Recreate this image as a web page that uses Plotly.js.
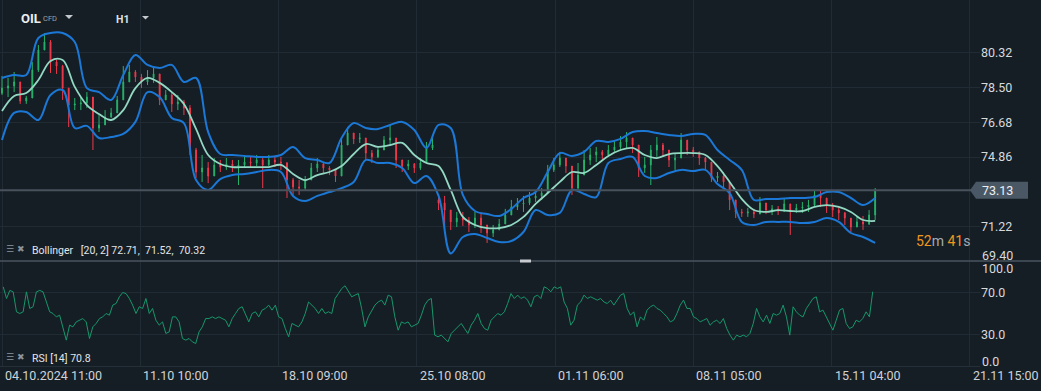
<!DOCTYPE html>
<html><head><meta charset="utf-8">
<script src="https://cdn.plot.ly/plotly-3.0.1.min.js"></script>
<style>html,body{margin:0;padding:0;background:#161e25;overflow:hidden}#chart{width:1041px;height:391px}</style>
</head><body><div id="chart"></div>
<script>
// ---------------- DATA ----------------
// hourly candles, one sampled every 5 bars
const candleStep = 5;
const firstOpen = 78.20;
const closes = [
78.47,78.58,78.79,77.79,77.95,79.41,80.46,80.88,79.83,79.62,
78.47,77.58,77.64,77.69,78.00,76.38,76.54,76.96,77.17,77.85,
78.79,79.31,79.05,78.79,79.00,79.21,77.85,78.11,77.64,77.74,
77.43,75.23,74.08,74.29,73.87,74.45,74.34,74.50,74.39,74.45,
74.60,74.55,74.71,74.45,74.71,74.60,74.55,73.66,73.30,73.24,
73.66,74.29,74.50,74.29,74.19,73.87,75.49,76.12,75.81,75.86,
75.07,74.87,75.23,75.75,75.86,74.71,74.39,74.50,74.29,74.55,
75.34,75.49,72.46,72.09,71.47,71.67,71.57,71.31,71.67,71.31,
70.89,71.05,71.36,71.83,72.25,72.41,72.46,72.72,72.83,72.98,
74.19,74.45,74.81,74.39,73.24,73.92,74.71,74.97,75.13,74.97,
75.23,75.39,75.65,75.86,75.49,74.29,74.45,75.23,75.49,75.23,
74.71,74.81,75.75,75.23,75.13,74.81,74.60,73.77,73.87,73.56,
72.62,71.99,71.94,71.99,71.88,72.46,72.09,72.15,72.04,72.41,
72.09,72.20,72.25,72.35,72.88,72.72,72.35,72.09,71.94,71.67,
71.20,71.47,71.36,71.83,73.13];
const highs = [
79.10,79.00,79.31,78.37,78.06,79.83,80.72,81.35,80.98,79.94,
79.68,78.47,77.95,78.00,78.26,77.58,77.06,77.32,77.43,78.06,
79.62,79.68,79.41,79.21,79.41,79.62,79.21,78.37,78.26,78.11,
77.85,77.58,75.34,74.97,74.60,74.81,74.71,74.81,74.71,74.71,
74.92,74.87,74.97,74.87,74.97,74.92,74.87,74.60,73.77,73.66,
73.87,74.55,74.81,74.55,74.39,74.19,75.86,76.43,76.07,76.12,
75.75,75.23,75.44,75.96,76.54,75.86,74.71,74.71,74.55,74.81,
75.65,75.86,72.88,72.83,71.99,71.99,71.99,71.73,71.99,71.99,
71.26,71.31,71.62,72.15,72.62,72.72,72.83,73.03,73.14,73.24,
74.45,74.81,75.13,74.81,74.08,74.55,75.23,75.34,75.39,75.23,
75.49,75.75,75.96,76.17,75.86,74.97,74.87,75.49,75.91,75.60,
75.23,75.07,76.12,75.49,75.39,75.07,74.87,74.29,74.08,74.08,
73.40,72.35,72.15,72.20,72.15,72.77,72.35,72.35,72.30,72.67,
72.35,72.41,72.51,72.62,73.14,73.09,72.67,72.46,72.25,71.99,
71.57,71.73,71.78,72.09,73.24];
const lows = [
78.11,78.00,78.26,77.64,77.64,77.95,79.31,80.46,79.26,79.21,
77.85,76.43,77.32,77.32,77.43,75.23,76.17,76.70,76.91,77.22,
77.85,78.89,78.79,78.47,78.63,78.74,77.58,77.85,77.22,77.32,
77.06,74.97,73.77,73.56,73.50,74.08,74.08,74.19,74.08,73.40,
74.29,74.29,74.39,73.24,74.39,74.34,74.19,72.72,72.88,72.88,
73.14,73.77,74.08,74.03,73.92,73.56,74.29,75.60,75.54,75.60,
74.71,74.55,74.81,75.39,75.49,74.29,74.08,74.19,74.03,74.19,
74.60,75.23,72.09,71.05,71.05,71.20,71.26,70.94,71.15,70.89,
70.37,70.68,71.05,71.47,71.88,72.09,71.99,72.35,72.51,72.62,
73.40,74.08,74.34,74.03,72.88,73.03,74.29,74.45,74.60,74.71,
74.87,75.13,75.23,75.34,75.07,73.82,74.03,73.40,74.87,74.87,
74.34,74.19,75.23,74.97,74.87,74.45,74.19,73.56,73.56,73.24,
72.09,71.67,71.73,71.73,71.67,71.99,71.88,71.83,71.83,71.99,
70.79,71.94,71.94,71.99,72.25,72.25,71.94,71.73,71.57,71.31,
70.94,71.20,71.05,71.31,71.57];
// opening gaps (candle index -> open)
const gapOpens = {72: 72.62};

// Bollinger (20, 2), one value every 10 bars
const bandStep = 10;
const bbUpper = [
79.00,79.15,79.15,81.09,81.35,81.35,80.88,78.47,78.26,77.85,
79.15,80.20,79.68,79.52,79.68,78.79,79.00,76.17,75.02,74.97,
74.92,74.87,74.87,74.97,75.39,74.81,74.71,74.55,75.86,76.64,
76.38,76.33,76.54,76.70,76.28,75.34,76.54,76.38,72.88,72.04,
71.88,71.78,72.15,72.72,73.03,74.08,75.07,74.92,75.13,75.70,
75.65,75.81,76.17,76.22,76.12,76.02,75.96,76.07,76.02,75.23,
74.71,74.19,72.62,72.67,72.67,72.72,72.72,72.77,73.03,73.03,
72.72,72.35,72.72];
const bbMid = [
77.27,78.06,78.21,78.89,79.89,79.94,78.53,77.58,77.11,76.80,
77.32,78.47,79.00,78.74,78.26,77.64,76.33,74.97,74.50,74.34,
74.34,74.34,74.34,74.45,73.98,73.66,73.92,74.08,74.39,75.02,
75.54,75.39,75.49,75.60,74.97,74.55,74.39,73.14,71.73,71.31,
71.15,71.15,71.31,71.73,72.41,72.98,73.56,74.08,74.03,74.45,
74.92,75.23,75.34,74.97,74.81,75.02,75.07,75.07,74.97,74.39,
73.56,72.67,72.09,71.99,72.09,72.04,72.04,72.25,72.35,72.25,
71.99,71.57,71.52];
const bbLower = [
75.75,77.17,77.22,76.80,78.11,78.37,76.38,76.49,75.86,75.91,
76.07,76.70,78.26,78.00,76.91,76.64,73.66,73.14,73.71,73.92,
73.98,74.08,74.19,74.08,72.83,72.56,72.83,73.03,73.24,73.56,
74.71,74.55,74.55,74.29,73.50,73.87,72.83,69.82,70.68,70.84,
70.63,70.42,70.47,70.94,72.09,71.83,71.94,73.14,72.93,72.77,
74.55,74.76,74.87,73.87,73.77,74.03,74.19,74.13,74.19,73.45,
72.98,71.47,71.31,71.47,71.47,71.47,71.41,71.47,71.67,71.47,
70.89,70.68,70.37];

// RSI (14)
const rsi = [
75.4,64.3,72,70.6,51.6,50,51.6,70.6,54.8,56.4,
70.6,72,70.6,61,51.6,50,46.8,48.4,35.7,24.6,
38.9,37.3,42,43.6,45.2,42,26.2,37.3,40.5,45.2,
46.8,50,48.4,58,59.5,65.9,70,69,64.3,58,
50,56.4,54.8,64.3,50,54.8,43.6,38.9,42,31,
32.5,46.8,46.8,42,26.2,24.6,26.2,23,21.4,32.5,
37.3,45.2,45.2,46.8,45.2,46.8,45,43.6,37.3,45.2,
50,54.8,56.4,50,42,50,51.6,46.8,53.2,54.8,
58,53.2,58,46.8,45.2,35.7,27.8,40.5,38.9,37.3,
42,50,61,58,54.8,50,54.8,50,51.6,50,
64.3,69,73.8,76.4,70.6,65.9,67.5,69,54.8,37.3,
46.8,53.2,58,61,62.7,58,67.5,65.9,46.8,34.1,
42,40.5,42,37.3,38.9,40.5,48.4,58,62.7,64.3,
29.4,27.8,29.4,26.2,23,31,34.1,37.3,40.5,35.7,
31,38.9,43.6,50,40.5,35.7,34.1,43.6,46.8,50,
48.4,51.6,59.5,69,64.3,67.5,64.3,65.9,62.7,56.4,
65.9,67.5,64.3,75.4,73.8,70.6,75.4,73.8,75.4,61,
54.8,38.9,43.6,58,61,67.5,64.3,65.9,64.3,62.7,
64.3,61,59.5,62.7,58,62.7,67.5,69,54.8,48.4,
51.6,37.3,46.8,43.6,53.2,56.4,58,54.8,53.2,50,
46.8,42,43.6,50,58,62.7,54.8,54.8,46.8,45.2,
42,43.6,45.2,38.9,42,43.6,40.5,45.2,35.7,29.4,
24.6,29.4,27.8,29.4,27.8,31,40.5,54.8,46.8,42,
48.4,40.5,50,48.4,50,58,46.8,29.4,56.4,51.6,
48.4,46.8,54.8,59.5,64.3,65.9,51.6,53.2,46.8,42,
34.1,43.6,53.2,54.8,40.5,35.7,37.3,43.6,42,45.2,
51.6,46.8,70.8];
const rsiSpan = [1, 718];

// axis labels
const barsPerTick = 114;
const dateLabels = ['04.10.2024 11:00','11.10 10:00','18.10 09:00','25.10 08:00','01.11 06:00','08.11 05:00','15.11 04:00','21.11 15:00'];
const priceTicks = [80.32, 78.50, 76.68, 74.86, 71.22];
const priceEdgeTick = 69.40;
const rsiTicks = [70, 30];
const rsiEdgeTicks = [100, 0];
const lastPrice = 73.13;
const bbLegend = 'Bollinger&nbsp;&nbsp; [20, 2] 72.71,&nbsp; 71.52,&nbsp; 70.32';
const rsiLegend = 'RSI [14] 70.8';
const symbol = 'OIL', symbolType = 'CFD', timeframe = 'H1';
const countdown = ['52', '41'];

// ---------------- LAYOUT GEOMETRY ----------------
const W = 1041, H = 391;
const M = {l: 0, r: 61, t: 0, b: 25};
const plotW = W - M.l - M.r, plotH = H - M.t - M.b;
const splitPx = 261;
const split = 1 - splitPx / plotH;
const pxPerBar = 138.25 / barsPerTick;
const xRange = [-2 / pxPerBar, (plotW - 2) / pxPerBar];
const priceRange = [69.425, 83.076];
const px = v => v / plotW;
const py = v => (plotH - v) / plotH;
const priceToPaper = p => split + (p - priceRange[0]) / (priceRange[1] - priceRange[0]) * (1 - split);

const BG = '#161e25', GRID = '#212b34', TXT = '#d6dadd';
const UP = '#27b36a', DOWN = '#f0394b';

const opens = closes.map((c, i) => (gapOpens[i] !== undefined ? gapOpens[i] : (i === 0 ? firstOpen : closes[i - 1])));
const hi = highs.map((h, i) => Math.max(h, opens[i], closes[i]));
const lo = lows.map((l, i) => Math.min(l, opens[i], closes[i]));
const candleX = closes.map((_, i) => i * candleStep);
const bandX = bbMid.map((_, i) => i * bandStep);
const rsiX = rsi.map((_, i) => rsiSpan[0] + i * (rsiSpan[1] - rsiSpan[0]) / (rsi.length - 1));
const tickVals = dateLabels.map((_, i) => i * barsPerTick);

const traces = [
  {type: 'candlestick', x: candleX, open: opens, high: hi, low: lo, close: closes,
   xaxis: 'x', yaxis: 'y', whiskerwidth: 0,
   increasing: {line: {color: UP, width: 1}, fillcolor: UP},
   decreasing: {line: {color: DOWN, width: 1}, fillcolor: DOWN}, hoverinfo: 'skip'},
  {type: 'scatter', mode: 'lines', x: bandX, y: bbUpper, xaxis: 'x', yaxis: 'y',
   line: {color: '#1b78d6', width: 2, shape: 'spline', smoothing: 1}},
  {type: 'scatter', mode: 'lines', x: bandX, y: bbLower, xaxis: 'x', yaxis: 'y',
   line: {color: '#1b78d6', width: 2, shape: 'spline', smoothing: 1}},
  {type: 'scatter', mode: 'lines', x: bandX, y: bbMid, xaxis: 'x', yaxis: 'y',
   line: {color: '#93d8c3', width: 1.8, shape: 'spline', smoothing: 1}},
  {type: 'scatter', mode: 'lines', x: rsiX, y: rsi, xaxis: 'x', yaxis: 'y2',
   line: {color: '#15976a', width: 1}}
];

const annotations = [];
dateLabels.forEach((t, i) => annotations.push({
  text: t, xref: 'x', x: tickVals[i], yref: 'paper', y: 0, xanchor: 'left', yanchor: 'top',
  xshift: 1, yshift: 0, showarrow: false, font: {size: 12.5, color: '#cfd3d7'}}));
const rightLabel = (text, yPx) => ({text, xref: 'paper', x: px(980), yref: 'paper', y: py(yPx),
  xanchor: 'left', yanchor: 'middle', showarrow: false, font: {size: 12.5, color: TXT}});
annotations.push(rightLabel(priceEdgeTick.toFixed(2), 255.5));
annotations.push(rightLabel(rsiEdgeTicks[0].toFixed(1), 268));
annotations.push(rightLabel(rsiEdgeTicks[1].toFixed(1), 361.5));
annotations.push({text: lastPrice.toFixed(2), xref: 'paper', x: px(980), yref: 'y', y: lastPrice,
  xanchor: 'left', yanchor: 'middle', showarrow: false, font: {size: 12.5, color: '#eef0f2'}});
annotations.push({text: '<b>' + symbol + '</b>', xref: 'paper', x: px(19), yref: 'paper', y: py(18),
  xanchor: 'left', yanchor: 'middle', showarrow: false, font: {size: 13, color: '#eceef0'}});
annotations.push({text: symbolType, xref: 'paper', x: px(41), yref: 'paper', y: py(18.5),
  xanchor: 'left', yanchor: 'middle', showarrow: false, font: {size: 7.5, color: '#9aa3ab'}});
annotations.push({text: '<b>' + timeframe + '</b>', xref: 'paper', x: px(114), yref: 'paper', y: py(20),
  xanchor: 'left', yanchor: 'middle', showarrow: false, font: {size: 10.5, color: '#dfe2e5'}});
annotations.push({text: '☰ ✖', xref: 'paper', x: px(4), yref: 'paper', y: py(249),
  xanchor: 'left', yanchor: 'middle', showarrow: false, font: {family: 'DejaVu Sans', size: 9, color: '#8d959c'}});
annotations.push({text: bbLegend, xref: 'paper', x: px(30), yref: 'paper', y: py(250.5),
  xanchor: 'left', yanchor: 'middle', showarrow: false, font: {size: 10.5, color: '#e2e5e8'}});
annotations.push({text: '☰ ✖', xref: 'paper', x: px(4), yref: 'paper', y: py(357),
  xanchor: 'left', yanchor: 'middle', showarrow: false, font: {family: 'DejaVu Sans', size: 9, color: '#8d959c'}});
annotations.push({text: rsiLegend, xref: 'paper', x: px(30), yref: 'paper', y: py(358.5),
  xanchor: 'left', yanchor: 'middle', showarrow: false, font: {size: 10.5, color: '#e2e5e8'}});
annotations.push({text: '<span style="color:#ef961f">' + countdown[0] + '</span>m <span style="color:#ef961f">' + countdown[1] + '</span>s',
  xref: 'paper', x: px(914), yref: 'paper', y: py(240.5), xanchor: 'left', yanchor: 'middle',
  showarrow: false, font: {size: 14, color: '#a3abb2'}});

const lpY = priceToPaper(lastPrice), lpH = 8.5 / plotH;
const shapes = [
  {type: 'line', xref: 'paper', yref: 'y', x0: 0, x1: px(971), y0: lastPrice, y1: lastPrice,
   line: {color: '#48525c', width: 2}},
  {type: 'path', xref: 'paper', yref: 'paper', fillcolor: '#4a5865', line: {width: 0},
   path: `M ${px(970)},${lpY} L ${px(976)},${lpY + lpH} L ${px(1028)},${lpY + lpH} L ${px(1028)},${lpY - lpH} L ${px(976)},${lpY - lpH} Z`},
  {type: 'line', xref: 'paper', yref: 'paper', x0: 0, x1: W / plotW, y0: split, y1: split,
   line: {color: '#4a555f', width: 1.5}},
  {type: 'rect', xref: 'paper', yref: 'paper', x0: px(520), x1: px(531), y0: py(262.5), y1: py(259.5),
   fillcolor: '#c8ccd0', line: {width: 0}},
  {type: 'path', xref: 'paper', yref: 'paper', fillcolor: '#c4c9ce', line: {width: 0},
   path: `M ${px(65)},${py(15)} L ${px(73)},${py(15)} L ${px(69)},${py(19)} Z`},
  {type: 'path', xref: 'paper', yref: 'paper', fillcolor: '#c4c9ce', line: {width: 0},
   path: `M ${px(142)},${py(16)} L ${px(149)},${py(16)} L ${px(145.5)},${py(19.5)} Z`}
];

const layout = {
  width: W, height: H, margin: M, paper_bgcolor: BG, plot_bgcolor: BG, showlegend: false,
  font: {family: 'Roboto, sans-serif', color: TXT},
  boxgap: 0.8,
  xaxis: {domain: [0, 1], range: xRange, anchor: 'y2', tickmode: 'array', tickvals: tickVals,
    showticklabels: false, showgrid: true, gridcolor: GRID, gridwidth: 1, zeroline: false,
    showline: true, linecolor: '#252f38', ticks: '', rangeslider: {visible: false}, fixedrange: true},
  yaxis: {domain: [split, 1], range: priceRange, side: 'right', anchor: 'x', tickmode: 'array',
    tickvals: priceTicks, ticktext: priceTicks.map(v => v.toFixed(2)), showgrid: true, gridcolor: GRID,
    zeroline: false, ticks: '', tickfont: {size: 12.5, color: TXT}, fixedrange: true},
  yaxis2: {domain: [0, split], range: [0, 100], side: 'right', anchor: 'x', tickmode: 'array',
    tickvals: rsiTicks, ticktext: rsiTicks.map(v => v.toFixed(1)), showgrid: true, gridcolor: GRID,
    zeroline: false, ticks: '', tickfont: {size: 12.5, color: TXT}, fixedrange: true},
  annotations, shapes
};

Plotly.newPlot('chart', traces, layout, {staticPlot: true, displayModeBar: false});
</script></body></html>
